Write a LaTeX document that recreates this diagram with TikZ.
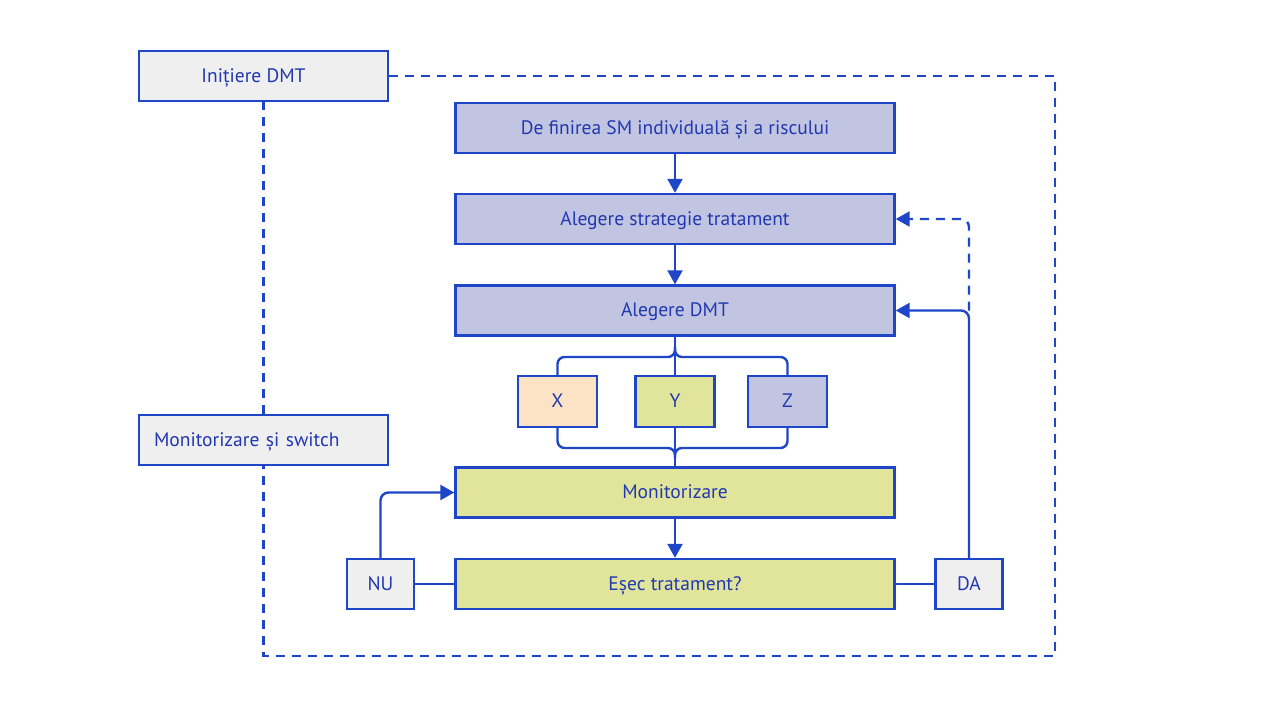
\documentclass[tikz,border=0pt]{standalone}
\usepackage{fontspec}
\setmainfont{PT Sans}
\usetikzlibrary{arrows.meta}
\definecolor{lineblue}{HTML}{1F45C8}
\definecolor{textblue}{HTML}{2238B0}
\definecolor{boxgray}{HTML}{EFEFEF}
\definecolor{boxlav}{HTML}{C1C5E1}
\definecolor{boxlime}{HTML}{E1E59B}
\definecolor{boxpeach}{HTML}{FDE3C6}

\begin{document}
\begin{tikzpicture}[x=1pt,y=-1pt]
\useasboundingbox (0,0) rectangle (1280,715);
\begin{scope}[every node/.style={rectangle,draw=lineblue,line width=2.4pt,text=textblue,
              font=\fontsize{19.5}{23}\selectfont,inner sep=0pt,minimum height=50pt,
              text height=13pt,text depth=1pt}]
    %side boxes on the left
    \node[fill=boxgray,minimum width=249pt] (init) at (263.5,76) {\hspace*{-20pt}Inițiere DMT};
    \node[fill=boxgray,text width=219pt,inner xsep=15pt,align=left] (switch) at (263.5,440) {Monitorizare și switch};
    %main column
    \node[fill=boxlav,minimum width=439pt] (def) at (675,128) {De finirea SM individuală și a riscului};
    \node[fill=boxlav,minimum width=439pt] (strat) at (675,219) {Alegere strategie tratament};
    \node[fill=boxlav,minimum width=439pt] (dmt) at (675,310.5) {Alegere DMT};
    \node[fill=boxpeach,minimum width=79pt,minimum height=51pt] (x) at (557.5,401.5) {X};
    \node[fill=boxlime,minimum width=79pt,minimum height=51pt] (y) at (675,401.5) {Y};
    \node[fill=boxlav,minimum width=79pt,minimum height=51pt] (z) at (787.5,401.5) {Z};
    \node[fill=boxlime,minimum width=439pt] (mon) at (675,492.5) {Monitorizare};
    \node[fill=boxlime,minimum width=439pt] (esec) at (675,584) {Eșec tratament?};
    %answers
    \node[fill=boxgray,minimum width=67pt] (nu) at (380.5,584) {NU};
    \node[fill=boxgray,minimum width=67pt] (da) at (969,584) {DA};
\end{scope}

%helper points for the loop and the braces
\coordinate (loopse) at (1055,656);
\coordinate (topbrace) at (675,357);
\coordinate (botbrace) at (675,448);
\coordinate (dajoin) at (da.north |- dmt.east);

\begin{scope}[>={Triangle[length=14pt,width=15pt]},
              every path/.style={draw=lineblue,line width=2.4pt}]
    %big dashed loop, goes behind the switch box
    \draw[dash pattern=on 9pt off 7pt] (init.east) -| (loopse) -| (switch.south);
    \draw[dash pattern=on 9pt off 7pt] (switch.north) -- (init.south);
    %straight arrows down the column
    \draw[->] (def) -- (strat);
    \draw[->] (strat) -- (dmt);
    \draw[->] (mon) -- (esec);
    %braces round X, Y, Z
    \draw (dmt.south) -- (y.north);
    \draw[rounded corners=7pt] (x.north) |- (topbrace) -- ++(0,-10);
    \draw[rounded corners=7pt] (z.north) |- (topbrace) -- ++(0,-10);
    \draw (y.south) -- (mon.north);
    \draw[rounded corners=7pt] (x.south) |- (botbrace) -- ++(0,10);
    \draw[rounded corners=7pt] (z.south) |- (botbrace) -- ++(0,10);
    %answers
    \draw (nu) -- (esec);
    \draw (esec) -- (da);
    \draw[->,rounded corners=8pt] (nu.north) |- (mon.west);
    \draw[->,rounded corners=8pt] (da.north) |- (dmt.east);
    \draw[->,rounded corners=8pt,dash pattern=on 9pt off 7pt] (dajoin) |- (strat.east);
\end{scope}
\end{tikzpicture}
\end{document}
